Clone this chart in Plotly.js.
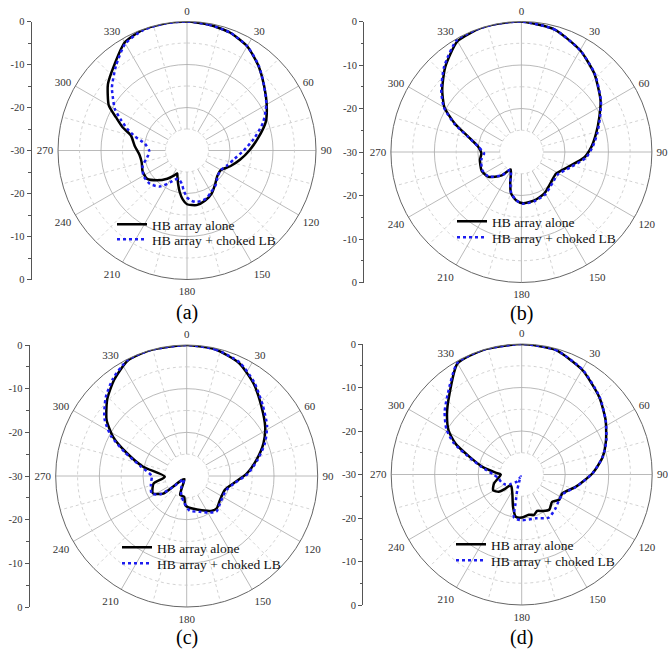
<!DOCTYPE html>
<html>
<head>
<meta charset="utf-8">
<script src="https://cdn.plot.ly/plotly-3.0.1.min.js"></script>
<style>html,body{margin:0;padding:0;background:#fff;}#chart{width:668px;height:649px;}</style>
</head>
<body>
<div id="chart"></div>
<script>
// ---------------- DATA (angle in degrees, normalized gain in dB) ----------------
const seriesNames = ["HB array alone", "HB array + choked LB"];
const panelLabels = ["(a)", "(b)", "(c)", "(d)"];
const angularTicks = [0, 30, 60, 90, 120, 150, 180, 210, 240, 270, 300, 330];
const leftTickVals = [30, 20, 10, 0, -10, -20, -30];
const leftTickText = ["0", "-10", "-20", "-30", "-20", "-10", "0"];

// (a)
const thetaA_alone = [0,10,20,30,40,50,60,70,80,90,100,110,120,130,140,150,160,170,180,185,190,195,200,203,207,215,225,235,245,255,265,275,285,290,295,300,310,320,330,340,350,360];
const rA_alone     = [0,-0.3,-0.8,-2,-4.2,-6.6,-8.6,-10.5,-13.2,-15.5,-17.5,-19.3,-20.9,-20.8,-19.8,-18.5,-17.6,-17.1,-17.5,-18.6,-20.2,-22,-23.5,-24.2,-23.5,-22,-20.2,-18.6,-18.6,-19.1,-18.9,-17.8,-16.5,-14,-11.8,-9,-6,-3.8,-1,-0.1,0,0];
const thetaA_choked = [0,10,20,30,40,50,60,70,80,90,100,110,120,130,135,140,150,158,165,171,175,180,185,189,197,203,208,217,228,240,251,258,263,270,279,285,290,295,300,305,310,320,330,340,350,360];
const rA_choked     = [0,-0.3,-0.8,-2,-4.1,-6.6,-8.7,-11.2,-14.2,-16.8,-18.8,-20,-20.9,-20.7,-20.2,-19.6,-18.8,-18,-17.8,-17.9,-18.3,-19.1,-20.8,-22.2,-23.1,-22.6,-21.6,-19.5,-18.4,-18.3,-19.1,-20.3,-20.9,-21.2,-20.1,-17.5,-15.2,-13,-10.6,-9,-7.2,-4.3,-1.3,-0.2,0,0];

// (b)
const thetaB_alone = [0,15,30,43,57,66,76,86,95,108,122,135,151,165,178,186,194,200,206,212,220,233,245,259,268,277,286,293,300,308,318,330,342,350,360];
const rB_alone     = [0,-0.8,-3,-5.4,-8.3,-10.4,-12.3,-13.9,-15.5,-18.8,-20.6,-20.3,-19.1,-18.5,-18.2,-18.8,-20.2,-22.5,-24.5,-25.3,-23,-20.5,-19.9,-20.3,-20.8,-20,-17.3,-13.4,-9.6,-6.9,-3.8,-0.6,0,0,0];
const thetaB_choked = [0,15,30,43,57,66,76,86,95,108,122,135,151,165,178,186,194,200,206,212,220,233,245,259,268,277,286,293,300,308,318,330,342,350,360];
const rB_choked     = [0,-0.8,-3,-5.3,-8.2,-10.2,-12,-13.6,-15.1,-18.3,-20.2,-19.9,-18.8,-18.3,-18.1,-18.8,-20.3,-22.6,-24.5,-25.2,-23,-20.6,-20.1,-20.6,-21.4,-20,-17.2,-13.2,-9.4,-6.6,-3.5,-0.3,0,0,0];

// (c)
const thetaC_alone = [0,13,25,36,47,58,67,77,88,99,110,126,137,145,150,163,177,183,187,199,202,215,231,232,233,243,257,268,282,291,298,305,314,323,333,344,360];
const rC_alone     = [0,-0.3,-1.5,-3.9,-6.6,-8.8,-10.9,-13.6,-16.3,-19.2,-20.7,-20.6,-19.9,-20.2,-20.8,-22,-22.8,-23.4,-25.2,-25.4,-27,-29.1,-28.5,-26.1,-23.3,-21.3,-22.2,-25,-19.8,-15.3,-10.9,-7.6,-4.7,-2.4,-0.3,0,0];
const thetaC_choked = [0,13,25,36,47,58,67,77,88,99,110,126,140,150,160,175,185,195,205,215,228,231,235,243,255,262,270,282,291,298,305,314,323,333,344,360];
const rC_choked     = [0,-0.3,-1.3,-3.6,-6.2,-8.3,-10.5,-13.3,-16,-19,-20.4,-20.3,-19.4,-20.3,-21.3,-22,-23.8,-25.3,-27,-29,-28.5,-26,-22.8,-21,-21.5,-21.8,-22,-19.2,-14.8,-10.3,-7,-4.2,-2,-0.2,0,0];

// (d)
const thetaD_alone = [0,15,30,45,57,68,78,89,103,115,124,132,142,150,157,163,170,180,188,195,206,219,226,229,233,241,252,270,274,281,289,295,301,309,317,330,343,360];
const rD_alone     = [0,-0.3,-2.2,-4.8,-7,-9.1,-11,-13.7,-17.3,-19.7,-19.6,-20.6,-19.7,-20.3,-20.9,-20.3,-20.6,-20.1,-20.2,-22.3,-25.1,-26.3,-26.5,-25.1,-23.4,-22.5,-23.3,-25.2,-24,-20.8,-17.2,-13.2,-10.4,-7.9,-5.5,-0.5,0,0];
const thetaD_choked = [0,15,30,45,57,68,78,89,103,115,124,135,148,162,180,190,192,196,200,205,215,230,240,250,262,270,281,289,295,301,309,317,330,343,360];
const rD_choked     = [0,-0.3,-2.1,-4.7,-7,-9,-11,-13.7,-17.2,-19.5,-19.6,-19,-18.3,-19.4,-19.5,-19.9,-23.2,-26.3,-28.5,-29.5,-28,-26.5,-25.5,-25,-24.5,-23.5,-20.5,-16.8,-12.7,-9.8,-7.2,-5,-0.4,0,0];

// ---------------- STYLE / LAYOUT ----------------
const FONT = "Liberation Serif, Times New Roman, serif";
const W = 668, H = 649;
// polar centres and radii in pixels; legend row tops
const panels = [
  {cx: 187.0, cy: 150.5, R: 129, axisX: 31.7, legX: 112, legTops: [209, 224], capY: 312, th: [thetaA_alone, thetaA_choked], r: [rA_alone, rA_choked]},
  {cx: 521.4, cy: 152.0, R: 130.5, axisX: 364.0, legX: 452, legTops: [206, 222], capY: 314, th: [thetaB_alone, thetaB_choked], r: [rB_alone, rB_choked]},
  {cx: 186.7, cy: 476.0, R: 131, axisX: 29.5, legX: 117, legTops: [532, 548], capY: 637, th: [thetaC_alone, thetaC_choked], r: [rC_alone, rC_choked]},
  {cx: 521.7, cy: 474.5, R: 130.5, axisX: 363.0, legX: 451, legTops: [529, 545], capY: 637, th: [thetaD_alone, thetaD_choked], r: [rD_alone, rD_choked]}
];

const traces = [];
const layout = {
  width: W, height: H,
  margin: {l: 0, r: 0, t: 0, b: 0},
  paper_bgcolor: "#fff",
  font: {family: FONT, color: "#222"},
  annotations: []
};

// grid helper geometry (not data)
const circTheta = [];
for (let a = 0; a <= 360; a += 3) circTheta.push(a);
const minorRadii = [-5, -15];

let legendCount = 0;
function nextLegend() {
  legendCount += 1;
  return legendCount === 1 ? "legend" : "legend" + legendCount;
}

panels.forEach((p, i) => {
  const k = i + 1;
  const polarName = k === 1 ? "polar" : "polar" + k;
  const sub = polarName;
  const xName = k === 1 ? "xaxis" : "xaxis" + k;
  const yName = k === 1 ? "yaxis" : "yaxis" + k;
  const xRef = k === 1 ? "x" : "x" + k;
  const yRef = k === 1 ? "y" : "y" + k;

  layout[polarName] = {
    domain: {
      x: [(p.cx - p.R) / W, (p.cx + p.R) / W],
      y: [(H - p.cy - p.R) / H, (H - p.cy + p.R) / H]
    },
    bgcolor: "#fff",
    angularaxis: {
      rotation: 90, direction: "clockwise",
      tickmode: "array", tickvals: angularTicks, ticktext: angularTicks.map(String),
      ticks: "outside", ticklen: 2, tickcolor: "rgba(0,0,0,0)",
      showline: true, linecolor: "#666", linewidth: 1,
      gridcolor: "#a8a8a8", gridwidth: 0.8,
      tickfont: {family: FONT, size: 11, color: "#333"}
    },
    radialaxis: {
      range: [-30, 0], tickmode: "array", tickvals: [-20, -10],
      showticklabels: false, ticks: "", showline: false,
      gridcolor: "#a8a8a8", gridwidth: 0.8
    }
  };

  // white centre disc (hides spokes inside the -25 dB ring)
  traces.push({
    type: "scatterpolar", subplot: sub, mode: "lines",
    theta: circTheta, r: circTheta.map(() => -25),
    fill: "toself", fillcolor: "#fff",
    line: {color: "#c8c8c8", width: 0.8, dash: "dot"},
    showlegend: false, hoverinfo: "skip"
  });
  // minor dotted circles
  minorRadii.forEach(rr => {
    traces.push({
      type: "scatterpolar", subplot: sub, mode: "lines",
      theta: circTheta, r: circTheta.map(() => rr),
      line: {color: "#c8c8c8", width: 0.8, dash: "dot"},
      showlegend: false, hoverinfo: "skip"
    });
  });
  // minor dotted spokes
  const spT = [], spR = [];
  for (let a = 15; a < 360; a += 30) { spT.push(a, a, null); spR.push(-25, 0, null); }
  traces.push({
    type: "scatterpolar", subplot: sub, mode: "lines",
    theta: spT, r: spR, connectgaps: false,
    line: {color: "#c8c8c8", width: 0.8, dash: "dot"},
    showlegend: false, hoverinfo: "skip"
  });

  // data traces, each with its own legend box so rows can be placed exactly
  const styles = [
    {color: "#000", width: 2.5, shape: "spline", smoothing: 0.6},
    {color: "#1c1cf0", width: 2.5, dash: "dot", shape: "spline", smoothing: 0.6}
  ];
  [0, 1].forEach(s => {
    const lg = nextLegend();
    traces.push({
      type: "scatterpolar", subplot: sub, mode: "lines",
      name: seriesNames[s], theta: p.th[s], r: p.r[s],
      line: styles[s], legend: lg, hoverinfo: "skip"
    });
    layout[lg] = {
      x: p.legX / W, y: (H - p.legTops[s]) / H, xanchor: "left", yanchor: "top",
      bgcolor: "rgba(0,0,0,0)", borderwidth: 0,
      font: {family: FONT, size: 13.5, color: "#111"}
    };
  });

  // left linear axis
  const yDom = [(H - p.cy - p.R) / H, (H - p.cy + p.R) / H];
  layout[xName] = {domain: [p.axisX / W, (p.axisX + 5) / W], anchor: yRef, visible: false, range: [0, 1]};
  layout[yName] = {
    domain: yDom, anchor: xRef, range: [-30, 30],
    tickmode: "array", tickvals: leftTickVals, ticktext: leftTickText,
    ticks: "outside", ticklen: 4, tickwidth: 1, tickcolor: "#555",
    showline: true, linecolor: "#555", linewidth: 1,
    showgrid: false, zeroline: false,
    tickfont: {family: FONT, size: 10.5, color: "#333"},
    minor: {tickmode: "array", tickvals: [-25, -15, -5, 5, 15, 25], ticks: "outside", ticklen: 2.5, tickcolor: "#555"}
  };
  traces.push({type: "scatter", x: [], y: [], xaxis: xRef, yaxis: yRef, showlegend: false, hoverinfo: "skip"});

  layout.annotations.push({
    text: panelLabels[i], xref: "paper", yref: "paper",
    x: p.cx / W, y: (H - p.capY) / H, xanchor: "center", yanchor: "middle",
    showarrow: false, font: {family: FONT, size: 20, color: "#000"}
  });
});

Plotly.newPlot("chart", traces, layout, {staticPlot: true, displayModeBar: false});
</script>
</body>
</html>
